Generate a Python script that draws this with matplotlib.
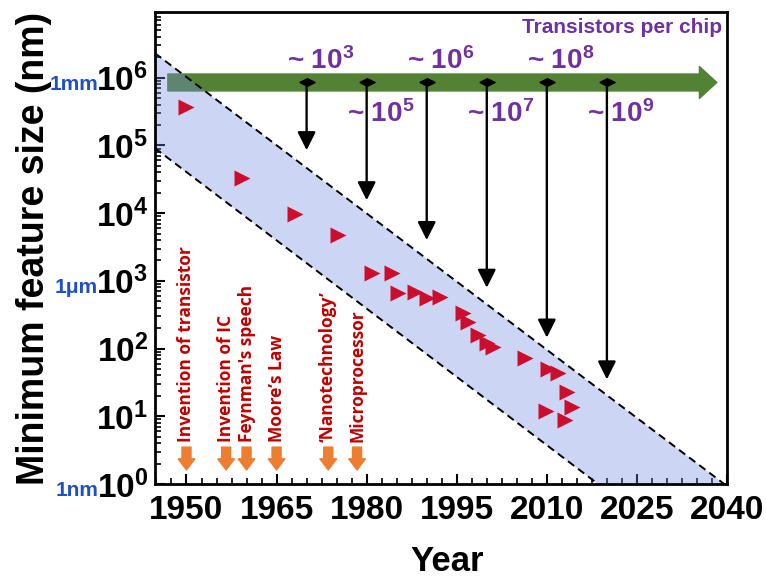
import matplotlib
matplotlib.use('Agg')
import matplotlib.pyplot as plt
from matplotlib.ticker import MultipleLocator, LogLocator, NullFormatter
import numpy as np

plt.rcParams['font.family'] = ['Liberation Sans', 'DejaVu Sans']
plt.rcParams['mathtext.fontset'] = 'custom'
plt.rcParams['mathtext.rm'] = 'Liberation Sans'
plt.rcParams['mathtext.bf'] = 'Liberation Sans:bold'
plt.rcParams['mathtext.it'] = 'Liberation Sans:italic'

# minimum feature size (nm) vs year
years = [1950, 1959.2, 1968.1, 1975.2, 1980.9, 1984.2, 1985.2, 1988.1, 1990.1, 1992.2,
         1996.1, 1996.8, 1998.6, 2000.1, 2001.1, 2006.4, 2010.2, 2011.8, 2013.4, 2014.2,
         2009.8, 2013.1]
sizes = [3.7e5, 3.3e4, 9.8e3, 4.8e3, 1.3e3, 1.3e3, 660, 690, 560, 580,
         335, 247, 160, 121, 106, 73, 50, 44, 23, 13.7,
         12, 8.8]

# shaded trend band
band_years = [1944.75, 2040]
band_upper = [2.3e6, 0.93]
band_lower = [9.1e4, 0.036]

# transistors per chip
chip_years = [1970, 1980, 1990, 2000, 2010, 2020]
chip_exp = [3, 5, 6, 7, 8, 9]
chip_reach = [8.5e4, 1.55e4, 4.0e3, 790, 145, 35]
chip_above = [True, False, True, False, True, False]
chip_level = 8.5e5

# milestones
events = ['Invention of transistor', 'Invention of IC', "Feynman's speech",
          'Moore\u2019s Law', '\u2018Nanotechnology\u2019', 'Microprocessor']
event_years = [1950, 1956.6, 1960, 1965, 1973.6, 1978.4]

xticks = [1950, 1965, 1980, 1995, 2010, 2025, 2040]
unit_labels = ['1mm', '1\u03bcm', '1nm']
unit_values = [1e6, 1e3, 1e0]

purple = '#7030a0'
fig = plt.figure(figsize=(7.66, 5.81), dpi=100)
ax = fig.add_axes([0.2023, 0.1670, 0.7468, 0.8123])
ax.set_yscale('log')
ax.set_xlim(1944.75, 2040)
ax.set_ylim(1, 10**6.97)

# green arrow (under the band)
ax.annotate('', xy=(2038.3, chip_level), xytext=(1946.9, chip_level),
            arrowprops=dict(arrowstyle='simple,head_width=2.3,head_length=1.25,tail_width=1.22',
                            color='#548235', mutation_scale=10, shrinkA=0, shrinkB=0),
            zorder=1)

ax.fill_between(band_years, band_lower, band_upper, color=(110/255, 140/255, 225/255),
                alpha=0.35, lw=0, zorder=2)
ax.plot(band_years, band_upper, color='black', lw=1.4, ls=(0, (4, 2.5)), zorder=2.5)
ax.plot(band_years, band_lower, color='black', lw=1.4, ls=(0, (4, 2.5)), zorder=2.5)

for yr, reach, e, up in zip(chip_years, chip_reach, chip_exp, chip_above):
    ax.annotate('', xy=(yr, reach), xytext=(yr, chip_level),
                arrowprops=dict(arrowstyle='-|>,head_width=0.55,head_length=1.1', color='black',
                                lw=1.7, mutation_scale=10, shrinkA=0, shrinkB=0), zorder=3)
    ax.annotate('~ $\\mathbf{10^{%d}}$' % e, xy=(yr, chip_level),
                xytext=(10, 9.5 if up else -28.4), textcoords='offset points',
                ha='center', va='baseline', fontsize=20, fontweight='bold', color=purple, zorder=4)

diamond = [(-1, 0), (0, 0.5), (1, 0), (0, -0.5), (-1, 0)]
ax.plot(chip_years, [chip_level] * len(chip_years), ls='none', marker=diamond, ms=11,
        color='black', zorder=4)

ax.text(0.991, 0.968, 'Transistors per chip', transform=ax.transAxes, ha='right', va='center',
        fontsize=15, fontweight='bold', color=purple)

ax.plot(years, sizes, ls='none', marker='>', ms=11, color='#cc0e2e', mec='none', zorder=5)

for name, yr in zip(events, event_years):
    ax.text(yr, 4.2, name, rotation=90, ha='center', va='bottom', fontsize=12.5,
            color='#c00000', family=['Open Sans', 'DejaVu Sans'], fontweight='bold')
    ax.annotate('', xy=(yr, 1.61), xytext=(yr, 3.5),
                arrowprops=dict(arrowstyle='simple,head_width=1.2,head_length=0.8,tail_width=0.65',
                                color='#ed7d31', mutation_scale=10, shrinkA=0, shrinkB=0))

# axes styling
ax.set_xticks(xticks)
ax.set_xticklabels([str(t) for t in xticks], fontsize=24, fontweight='bold')
ax.xaxis.set_minor_locator(MultipleLocator(2.5))
ax.set_yticks([10**k for k in range(7)])
ax.set_yticklabels([r'$\mathbf{10^{%d}}$' % k for k in range(7)], fontsize=24)
ax.yaxis.set_minor_locator(LogLocator(base=10, subs=np.arange(2, 10), numticks=20))
ax.yaxis.set_minor_formatter(NullFormatter())
ax.tick_params(which='both', direction='in', top=False, right=False)
ax.tick_params(which='major', length=7, width=1.5)
ax.tick_params(which='minor', length=4, width=1.2)
ax.tick_params(axis='x', pad=8)
ax.tick_params(axis='y', pad=5)
for s in ax.spines.values():
    s.set_linewidth(2)

for u, v in zip(unit_labels, unit_values):
    ax.annotate(u, xy=(0, v), xycoords=('axes fraction', 'data'), xytext=(-41, -8.6),
                textcoords='offset points', ha='right', va='baseline', fontsize=15,
                fontweight='bold', color='#1f4fc8')

ax.set_ylabel('Minimum feature size (nm)', fontsize=27, fontweight='bold')
ax.yaxis.set_label_coords(-0.18, 0.5)
ax.set_xlabel('Year', fontsize=25, fontweight='bold')
ax.xaxis.set_label_coords(0.51, -0.13)

fig.savefig('out.png', dpi=100)
